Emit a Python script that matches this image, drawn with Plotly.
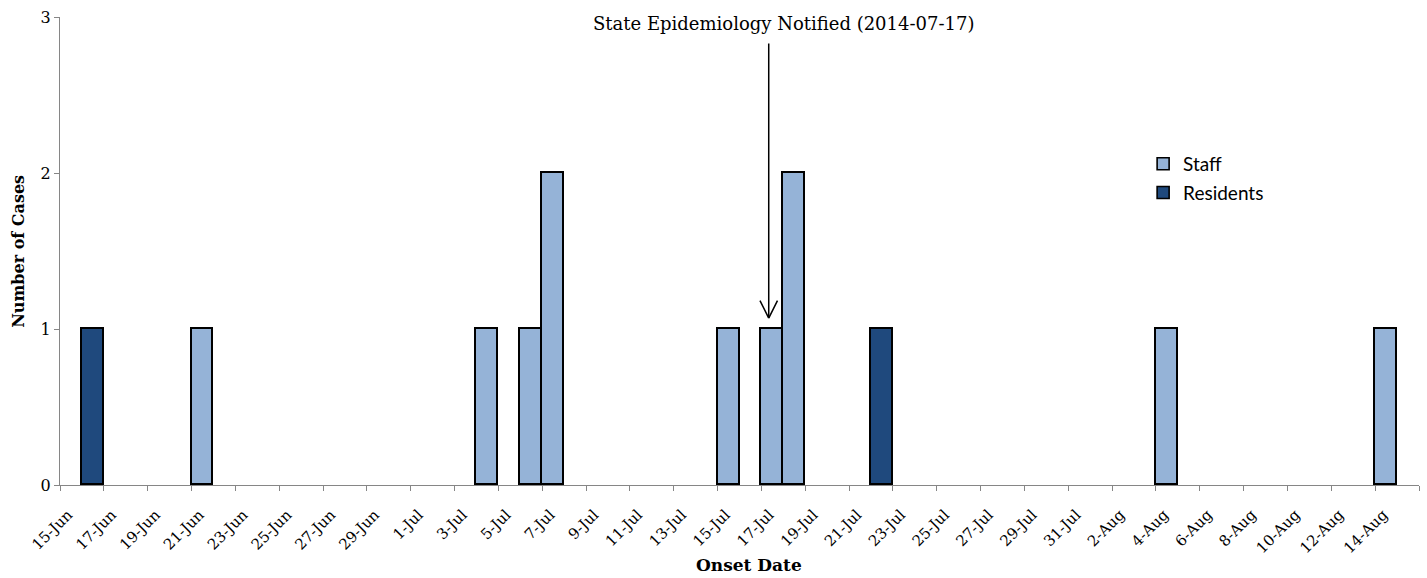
import pandas as pd
import plotly.graph_objects as go

# ---- data ----
staff_dates = ["2014-06-21", "2014-07-04", "2014-07-06", "2014-07-07",
               "2014-07-15", "2014-07-17", "2014-07-18", "2014-08-04", "2014-08-14"]
staff_cases = [1, 1, 1, 2, 1, 1, 2, 1, 1]

resident_dates = ["2014-06-16", "2014-07-22"]
resident_cases = [1, 1]

tick_labels = ["15-Jun", "17-Jun", "19-Jun", "21-Jun", "23-Jun", "25-Jun", "27-Jun",
               "29-Jun", "1-Jul", "3-Jul", "5-Jul", "7-Jul", "9-Jul", "11-Jul",
               "13-Jul", "15-Jul", "17-Jul", "19-Jul", "21-Jul", "23-Jul", "25-Jul",
               "27-Jul", "29-Jul", "31-Jul", "2-Aug", "4-Aug", "6-Aug", "8-Aug",
               "10-Aug", "12-Aug", "14-Aug", ""]
axis_start = "2014-06-15"
axis_end = "2014-08-16"
notified_date = "2014-07-17"
notice_text = "State Epidemiology Notified (2014-07-17)"

DAY_MS = 86400000
tick_vals = list(pd.date_range(axis_start, axis_end, periods=len(tick_labels)))

STAFF_COLOR = "#95B3D7"
RES_COLOR = "#1F497D"
AXIS_COLOR = "#868686"
SERIF = "DejaVu Serif"
SANS = "Lato"

fig = go.Figure()
fig.add_trace(go.Bar(
    x=staff_dates, y=staff_cases, name="Staff", legendgroup="staff",
    offset=0, width=[DAY_MS] * len(staff_dates),
    marker=dict(color=STAFF_COLOR, line=dict(color="black", width=1.6)),
))
fig.add_trace(go.Bar(
    x=resident_dates, y=resident_cases, name="Residents", legendgroup="res",
    offset=0, width=[DAY_MS] * len(resident_dates),
    marker=dict(color=RES_COLOR, line=dict(color="black", width=1.6)),
))

notified_ts = pd.Timestamp(notified_date)
arrow_x = notified_ts + pd.Timedelta(hours=8)
text_x = notified_ts + pd.Timedelta(days=1)
tip_y = 1.07

# arrow shaft
fig.add_annotation(x=arrow_x, y=tip_y, xref="x", yref="y",
                   ax=arrow_x, ay=2.84, axref="x", ayref="y",
                   text="", showarrow=True, arrowhead=0,
                   arrowwidth=1.5, arrowcolor="black")
# open V head (two thin strokes from the tip)
for dx in (-9.5, 9.5):
    fig.add_annotation(x=arrow_x, y=tip_y, xref="x", yref="y",
                       ax=dx, ay=-19, text="", showarrow=True, arrowhead=0,
                       arrowwidth=1.5, arrowcolor="black")
fig.add_annotation(x=text_x, y=2.96, xref="x", yref="y", text=notice_text,
                   showarrow=False, xanchor="center", yanchor="middle",
                   font=dict(family=SERIF, size=18, color="black"))

fig.add_annotation(x=-0.031, y=0.5, xref="paper", yref="paper",
                   text="<b>Number of Cases</b>", textangle=-90, showarrow=False,
                   xanchor="center", yanchor="middle",
                   font=dict(family=SERIF, size=16, color="black"))
fig.add_annotation(x=0.507, y=-0.17, xref="paper", yref="paper",
                   text="<b>Onset Date</b>", showarrow=False,
                   xanchor="center", yanchor="middle",
                   font=dict(family=SERIF, size=17, color="black"))

fig.update_layout(
    width=1427, height=578,
    margin=dict(l=60, r=8, t=14, b=93),
    plot_bgcolor="white", paper_bgcolor="white",
    barmode="stack", bargap=0,
    showlegend=True,
    legend=dict(x=0.797, y=0.655, xanchor="left", yanchor="middle",
                traceorder="grouped", tracegroupgap=1,
                font=dict(family=SANS, size=19, color="black"),
                bgcolor="rgba(0,0,0,0)"),
    xaxis=dict(
        type="date", range=[axis_start, axis_end],
        tickmode="array", tickvals=tick_vals, ticktext=tick_labels,
        tickangle=-45, ticklabelshift=8, ticklabelstandoff=9,
        ticks="outside", ticklen=5, tickcolor=AXIS_COLOR, tickwidth=1,
        showline=True, linecolor=AXIS_COLOR, linewidth=1,
        showgrid=False, zeroline=False,
        tickfont=dict(family=SERIF, size=15, color="black"),
    ),
    yaxis=dict(
        range=[0, 3], dtick=1, tick0=0,
        ticks="outside", ticklen=5, tickcolor=AXIS_COLOR, tickwidth=1,
        showline=True, linecolor=AXIS_COLOR, linewidth=1,
        showgrid=False, zeroline=False,
        tickfont=dict(family=SERIF, size=16, color="black"),
    ),
)

fig.write_html("out.html", config={"displayModeBar": False},
               post_script="document.body.style.margin='0';")
